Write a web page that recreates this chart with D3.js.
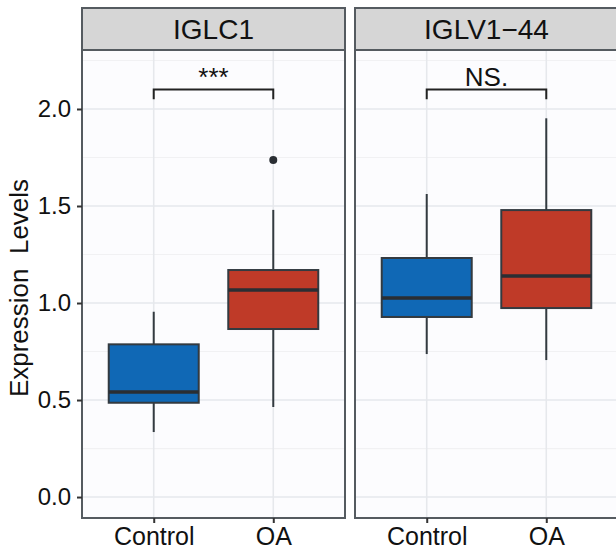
<!DOCTYPE html>
<html>
<head>
<meta charset="utf-8">
<script src="https://cdn.jsdelivr.net/npm/d3@7"></script>
<style>
  body { margin: 0; background: #fff; }
  text { font-family: "Liberation Sans", Arial, sans-serif; }
</style>
</head>
<body>
<script>
// values
var genes = ["IGLC1", "IGLV1\u221244"];
var groups = ["Control", "OA"];
var whiskerLow  = [[0.335, 0.464], [0.737, 0.706]];
var boxLow      = [[0.486, 0.866], [0.928, 0.974]];
var medians     = [[0.541, 1.067], [1.026, 1.139]];
var boxHigh     = [[0.787, 1.170], [1.232, 1.479]];
var whiskerHigh = [[0.955, 1.480], [1.562, 1.952]];
var outliers    = [[[], [1.737]], [[], []]];
var signifLabels = ["***", "NS."];
var bracketTop = 2.1, bracketTip = 2.05;
var yTicks = [0, 0.5, 1.0, 1.5, 2.0];
var yMinor = [0.25, 0.75, 1.25, 1.75, 2.25];
var colors = ["#1068b5", "#bf3a28"];

var width = 616, height = 551;
var panelW = 263, panelTop = 50, panelBottom = 518, stripTop = 8;
var panelX = [82, 355];

var svg = d3.select("body").append("svg")
  .attr("width", width)
  .attr("height", height);

var y = d3.scaleLinear().domain([-0.108, 2.304]).range([panelBottom, panelTop]);

genes.forEach(function(gene, gi){
  var x0 = panelX[gi];
  var x = d3.scalePoint().domain(groups).range([0, panelW]).padding(0.6);
  var g = svg.append("g").attr("transform", "translate(" + x0 + ",0)");

  // panel background
  g.append("rect")
    .attr("x", 0).attr("y", panelTop)
    .attr("width", panelW).attr("height", panelBottom - panelTop)
    .attr("fill", "#fcfcfe");

  // minor grid
  g.selectAll(".minor").data(yMinor).enter().append("line")
    .attr("x1", 0).attr("x2", panelW)
    .attr("y1", function(d){ return y(d); }).attr("y2", function(d){ return y(d); })
    .attr("stroke", "#f1f1f3").attr("stroke-width", 1.2);
  // major grid
  g.selectAll(".major").data(yTicks).enter().append("line")
    .attr("x1", 0).attr("x2", panelW)
    .attr("y1", function(d){ return y(d); }).attr("y2", function(d){ return y(d); })
    .attr("stroke", "#e6e8ec").attr("stroke-width", 1.6);
  g.selectAll(".vgrid").data(groups).enter().append("line")
    .attr("x1", function(d){ return x(d); }).attr("x2", function(d){ return x(d); })
    .attr("y1", panelTop).attr("y2", panelBottom)
    .attr("stroke", "#e6e8ec").attr("stroke-width", 1.6);

  // boxes
  groups.forEach(function(grp, k){
    var cx = x(grp), bw = 90;
    g.append("line")
      .attr("x1", cx).attr("x2", cx)
      .attr("y1", y(whiskerLow[gi][k])).attr("y2", y(boxLow[gi][k]))
      .attr("stroke", "#333a40").attr("stroke-width", 2);
    g.append("line")
      .attr("x1", cx).attr("x2", cx)
      .attr("y1", y(boxHigh[gi][k])).attr("y2", y(whiskerHigh[gi][k]))
      .attr("stroke", "#333a40").attr("stroke-width", 2);
    g.append("rect")
      .attr("x", cx - bw/2).attr("width", bw)
      .attr("y", y(boxHigh[gi][k]))
      .attr("height", y(boxLow[gi][k]) - y(boxHigh[gi][k]))
      .attr("fill", colors[k]).attr("stroke", "#333a40").attr("stroke-width", 2);
    g.append("line")
      .attr("x1", cx - bw/2).attr("x2", cx + bw/2)
      .attr("y1", y(medians[gi][k])).attr("y2", y(medians[gi][k]))
      .attr("stroke", "#2a2e33").attr("stroke-width", 3.5);
    g.selectAll(".out" + k).data(outliers[gi][k]).enter().append("circle")
      .attr("cx", cx).attr("cy", function(d){ return y(d); })
      .attr("r", 4).attr("fill", "#2a2e33");
  });

  // significance bracket
  var xa = x(groups[0]), xb = x(groups[1]);
  g.append("path")
    .attr("d", "M" + xa + "," + y(bracketTip) + "V" + y(bracketTop) + "H" + xb + "V" + y(bracketTip))
    .attr("fill", "none").attr("stroke", "#222").attr("stroke-width", 2);
  g.append("text")
    .attr("x", (xa + xb) / 2).attr("y", 86)
    .attr("text-anchor", "middle")
    .attr("font-size", 26).attr("fill", "#111")
    .text(signifLabels[gi]);

  // panel border
  g.append("rect")
    .attr("x", 0).attr("y", panelTop)
    .attr("width", panelW).attr("height", panelBottom - panelTop)
    .attr("fill", "none").attr("stroke", "#555b60").attr("stroke-width", 2);

  // strip
  g.append("rect")
    .attr("x", 0).attr("y", stripTop)
    .attr("width", panelW).attr("height", panelTop - stripTop)
    .attr("fill", "#d6d6d6").attr("stroke", "#555b60").attr("stroke-width", 2);
  g.append("text")
    .attr("x", panelW / 2).attr("y", 39)
    .attr("text-anchor", "middle")
    .attr("font-size", 28).attr("fill", "#111")
    .text(gene);

  // x axis
  var xAxis = g.append("g")
    .attr("transform", "translate(0," + panelBottom + ")")
    .call(d3.axisBottom(x).tickSize(5).tickPadding(5));
  xAxis.select(".domain").remove();
  xAxis.selectAll(".tick line").attr("stroke", "#333").attr("stroke-width", 2);
  xAxis.selectAll(".tick text")
    .attr("font-size", 25).attr("fill", "#111")
    .attr("font-family", "'Liberation Sans', Arial, sans-serif")
    .attr("dy", 0).attr("y", 27);
});

// y axis on left panel
var yAxis = svg.append("g")
  .attr("transform", "translate(" + panelX[0] + ",0)")
  .call(d3.axisLeft(y).tickValues(yTicks).tickFormat(d3.format(".1f")).tickSize(5).tickPadding(6));
yAxis.select(".domain").remove();
yAxis.selectAll(".tick line").attr("stroke", "#333").attr("stroke-width", 2);
yAxis.selectAll(".tick text")
  .attr("font-size", 24).attr("fill", "#111")
  .attr("font-family", "'Liberation Sans', Arial, sans-serif");

svg.append("text")
  .attr("transform", "translate(28,288) rotate(-90)")
  .attr("text-anchor", "middle")
  .attr("font-size", 26).attr("fill", "#111")
  .attr("xml:space", "preserve")
  .style("white-space", "pre")
  .text("Expression  Levels");
</script>
</body>
</html>
